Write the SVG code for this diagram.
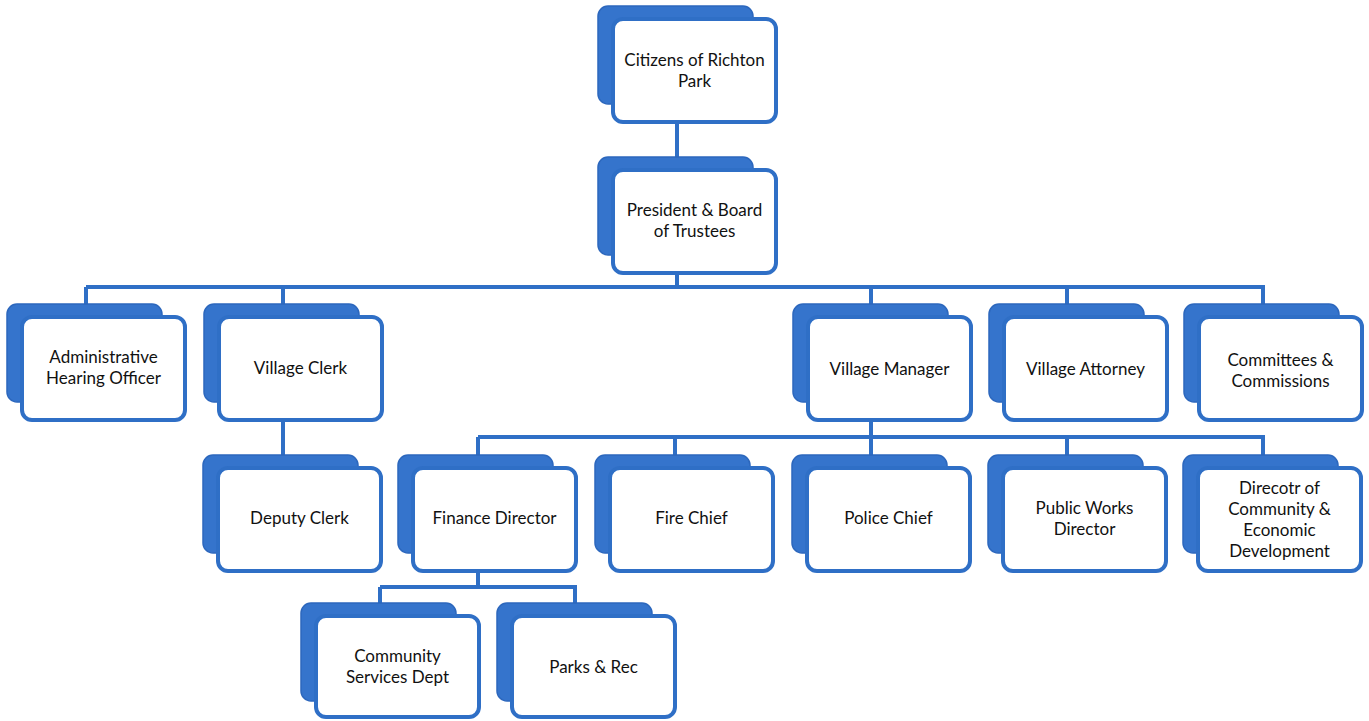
<svg xmlns="http://www.w3.org/2000/svg" width="1369" height="721" viewBox="0 0 1369 721">
<defs>
<style>
.back{fill:#3574cc;stroke:#2c67bd;stroke-width:1.5}
.front{fill:#ffffff;stroke:#2f6fc6;stroke-width:4}
.t{font-family:Lato,"Open Sans","Liberation Sans",sans-serif;font-size:17px;fill:#111111;text-anchor:middle}
.c{fill:none;stroke:#2f6fc6;stroke-width:4}
</style>
</defs>
<rect width="1369" height="721" fill="#ffffff"/>
<g id="connectors">
<path class="c" d="M677 122V158"/>
<path class="c" d="M677 273V287M86 287H1265M86 287V305M283 287V305M871 287V305M1067 287V305M1263 287V305"/>
<path class="c" d="M283 420V456"/>
<path class="c" d="M871 420V437M478 437H1265M478 437V456M675 437V456M871 437V456M1067 437V456M1263 437V456"/>
<path class="c" d="M478 572V587M380 587H577M380 587V604M575 587V604"/>
</g>
<g id="citizens"><rect class="back" x="598" y="6" width="155" height="98" rx="10"/><rect class="front" x="613" y="19" width="163" height="103" rx="10"/><text class="t" x="694.5" y="66">Citizens of Richton</text><text class="t" x="694.5" y="87">Park</text></g>
<g id="president"><rect class="back" x="598" y="157" width="155" height="98" rx="10"/><rect class="front" x="613" y="170" width="163" height="103" rx="10"/><text class="t" x="694.5" y="216">President &amp; Board</text><text class="t" x="694.5" y="237">of Trustees</text></g>
<g id="admin"><rect class="back" x="7" y="304" width="155" height="98" rx="10"/><rect class="front" x="22" y="317" width="163" height="103" rx="10"/><text class="t" x="103.5" y="363">Administrative</text><text class="t" x="103.5" y="384">Hearing Officer</text></g>
<g id="clerk"><rect class="back" x="204" y="304" width="155" height="98" rx="10"/><rect class="front" x="219" y="317" width="163" height="103" rx="10"/><text class="t" x="300.5" y="374">Village Clerk</text></g>
<g id="manager"><rect class="back" x="793" y="304" width="155" height="98" rx="10"/><rect class="front" x="808" y="317" width="163" height="103" rx="10"/><text class="t" x="889.5" y="375">Village Manager</text></g>
<g id="attorney"><rect class="back" x="989" y="304" width="155" height="98" rx="10"/><rect class="front" x="1004" y="317" width="163" height="103" rx="10"/><text class="t" x="1085.5" y="375">Village Attorney</text></g>
<g id="committees"><rect class="back" x="1184" y="304" width="155" height="98" rx="10"/><rect class="front" x="1199" y="317" width="163" height="103" rx="10"/><text class="t" x="1280.5" y="366">Committees &amp;</text><text class="t" x="1280.5" y="387">Commissions</text></g>
<g id="deputy"><rect class="back" x="203" y="455" width="155" height="98" rx="10"/><rect class="front" x="218" y="468" width="163" height="103" rx="10"/><text class="t" x="299.5" y="524">Deputy Clerk</text></g>
<g id="finance"><rect class="back" x="398" y="455" width="155" height="98" rx="10"/><rect class="front" x="413" y="468" width="163" height="103" rx="10"/><text class="t" x="494.5" y="524">Finance Director</text></g>
<g id="fire"><rect class="back" x="595" y="455" width="155" height="98" rx="10"/><rect class="front" x="610" y="468" width="163" height="103" rx="10"/><text class="t" x="691.5" y="524">Fire Chief</text></g>
<g id="police"><rect class="back" x="792" y="455" width="155" height="98" rx="10"/><rect class="front" x="807" y="468" width="163" height="103" rx="10"/><text class="t" x="888.5" y="524">Police Chief</text></g>
<g id="publicworks"><rect class="back" x="988" y="455" width="155" height="98" rx="10"/><rect class="front" x="1003" y="468" width="163" height="103" rx="10"/><text class="t" x="1084.5" y="514">Public Works</text><text class="t" x="1084.5" y="535">Director</text></g>
<g id="direcotr"><rect class="back" x="1183" y="455" width="155" height="98" rx="10"/><rect class="front" x="1198" y="468" width="163" height="103" rx="10"/><text class="t" x="1279.5" y="494">Direcotr of</text><text class="t" x="1279.5" y="515">Community &amp;</text><text class="t" x="1279.5" y="536">Economic</text><text class="t" x="1279.5" y="557">Development</text></g>
<g id="community"><rect class="back" x="301" y="603" width="155" height="98" rx="10"/><rect class="front" x="316" y="616" width="163" height="101" rx="10"/><text class="t" x="397.5" y="662">Community</text><text class="t" x="397.5" y="683">Services Dept</text></g>
<g id="parks"><rect class="back" x="497" y="603" width="155" height="98" rx="10"/><rect class="front" x="512" y="616" width="163" height="101" rx="10"/><text class="t" x="593.5" y="673">Parks &amp; Rec</text></g>
</svg>
